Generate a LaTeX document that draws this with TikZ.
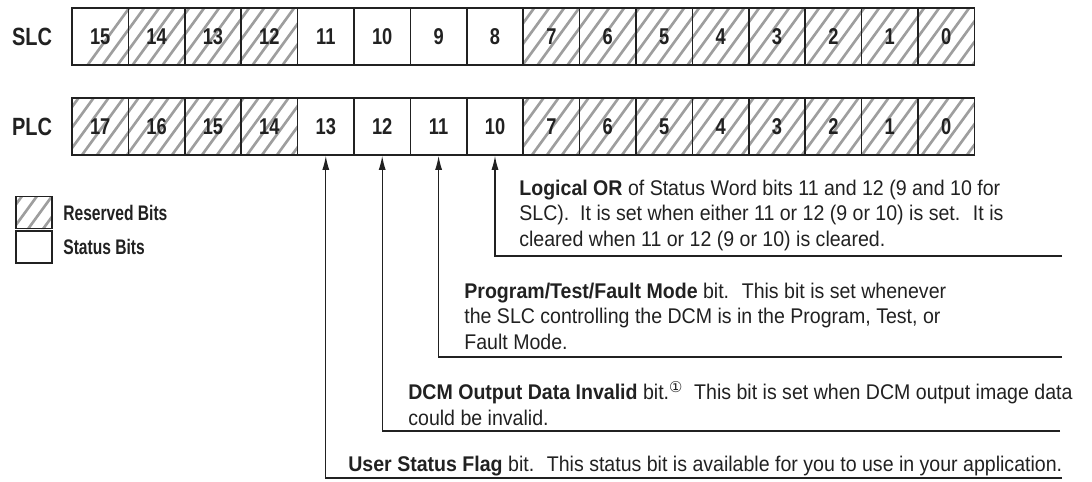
\documentclass[tikz,border=0pt]{standalone}
\usepackage{fontspec}
\setmainfont{Liberation Sans}[FakeStretch=0.92]
\newfontfamily\narrowfont{Liberation Sans}[FakeStretch=0.8]
\newfontfamily\keyfont{Liberation Sans}[FakeStretch=0.74]
\newfontfamily\symfont{DejaVu Sans}
\usetikzlibrary{arrows.meta}

\definecolor{ink}{gray}{0.13}
\definecolor{hatchgray}{gray}{0.62}

\tikzset{
    bitbox/.style={draw=ink, line width=0.9pt, minimum width=1.128cm, minimum height=1.14cm, inner sep=0pt, text=ink, font=\narrowfont\fontsize{13}{15}\selectfont\bfseries},
    rowlabel/.style={text=ink, inner sep=0pt, font=\narrowfont\fontsize{14.2}{16}\selectfont\bfseries},
    keybox/.style={draw=ink, line width=0.9pt, minimum width=0.72cm, minimum height=0.64cm, inner sep=0pt},
    keytext/.style={anchor=west, text=ink, inner sep=0pt, font=\keyfont\fontsize{12}{14}\selectfont\bfseries},
    desc/.style={anchor=base west, align=left, inner sep=0pt, text=ink, font=\fontsize{12.1}{14.4}\selectfont},
    hatch/.style={hatchgray, line width=1.5pt},
    flag/.style={ink, line width=0.7pt, -{Latex[length=8pt, width=4pt]}},
}

\begin{document}
\begin{tikzpicture}[x=0.02cm, y=-0.02cm]
    \useasboundingbox (0,0) rectangle (1092,481);

    % reserved bits
    \begin{scope}
        \clip (72,8) rectangle (297.6,65) (523.2,8) rectangle (974.4,65)
              (72,98) rectangle (297.6,155) (523.2,98) rectangle (974.4,155)
              (16,196) rectangle (52,229);
        \foreach \k in {0,...,80}
            \draw[hatch] (-40+\k*15, 240) -- ++(175,-240);
    \end{scope}

    \node[rowlabel] (slc) at (32,37) {SLC};
    \node[rowlabel] (plc) at (32,127) {PLC};

    \foreach \b [count=\i from 0] in {15,14,13,12,11,10,9,8,7,6,5,4,3,2,1,0}
        \node[bitbox] (s\i) at (100.2+56.4*\i, 36.5) {\b};
    \foreach \b [count=\i from 0] in {17,16,15,14,13,12,11,10,7,6,5,4,3,2,1,0}
        \node[bitbox] (p\i) at (100.2+56.4*\i, 126.5) {\b};

    \node[keybox] (reserved) at (34,212.5) {};
    \node[keybox] (status) at (34,247) {};
    \node[keytext] (reservedtxt) at (63,213) {Reserved Bits};
    \node[keytext] (statustxt) at (63,247) {Status Bits};

    \node[desc] (ordesc) at (519,246) {\textbf{Logical OR} of Status Word bits 11 and 12 (9 and 10 for\\SLC).~ It is set when either 11 or 12 (9 or 10) is set.~ It is\\cleared when 11 or 12 (9 or 10) is cleared.};
    \node[desc] (modedesc) at (464,349) {\textbf{Program/Test/Fault Mode} bit.~ This bit is set whenever\\the SLC controlling the DCM is in the Program, Test, or\\Fault Mode.};
    \node[desc] (invdesc) at (408,425) {\textbf{DCM Output Data Invalid} bit.\textsuperscript{\symfont ①}~ This bit is set when DCM output image data\\could be invalid.};
    \node[desc] (userdesc) at (348,471) {\textbf{User Status Flag} bit.~ This status bit is available for you to use in your application.};

    \coordinate (orend) at (1062,256);
    \coordinate (modeend) at (1062,357);
    \coordinate (invend) at (1060,431);
    \coordinate (userend) at (1062,478);

    \draw[flag] (orend) -| (p7.south);
    \draw[flag] (modeend) -| (p6.south);
    \draw[flag] (invend) -| (p5.south);
    \draw[flag] (userend) -| (p4.south);
\end{tikzpicture}
\end{document}
